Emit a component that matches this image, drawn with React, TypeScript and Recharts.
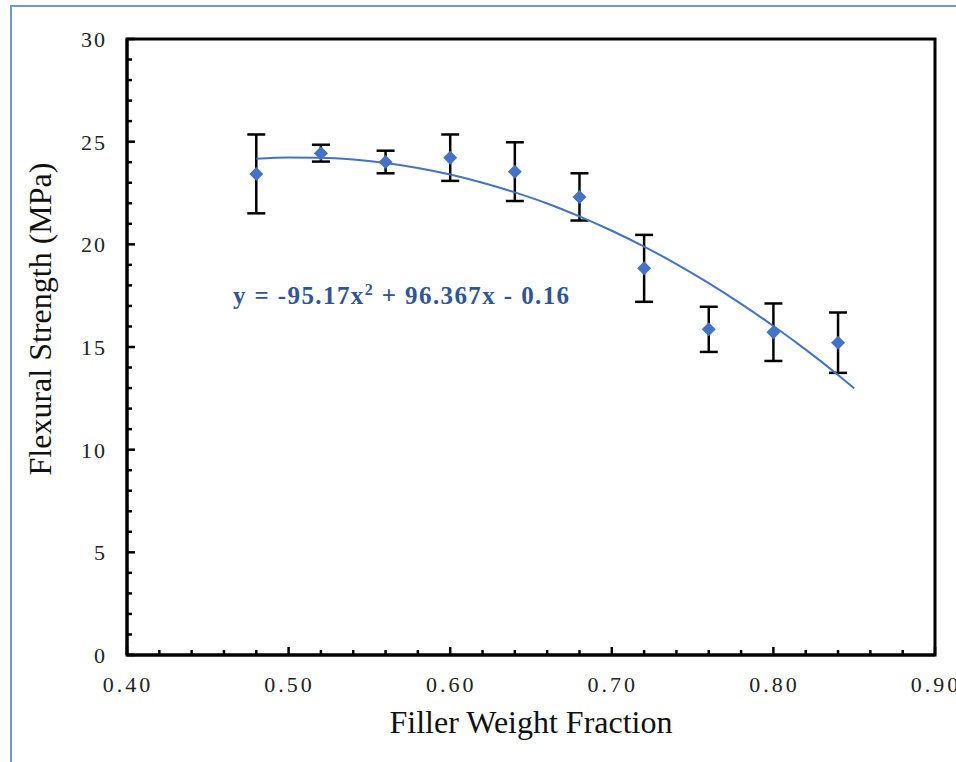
import React from "react";
import {
  ComposedChart,
  Scatter,
  Line,
  XAxis,
  YAxis,
  ErrorBar,
  ReferenceArea,
  Label,
} from "recharts";

// measured points
const fractions = [0.48, 0.52, 0.56, 0.6, 0.64, 0.68, 0.72, 0.76, 0.8, 0.84];
const strength = [23.43, 24.44, 24.01, 24.22, 23.54, 22.31, 18.83, 15.86, 15.72, 15.21];
const stdDev = [1.92, 0.41, 0.55, 1.13, 1.43, 1.15, 1.63, 1.1, 1.4, 1.47];

// polynomial trendline
const fitX = [0.48, 0.5, 0.52, 0.54, 0.56, 0.58, 0.6, 0.62, 0.64, 0.66, 0.68, 0.7, 0.72, 0.74, 0.76, 0.78, 0.8, 0.82, 0.84, 0.85];
const fitY = [24.17, 24.23, 24.22, 24.13, 23.96, 23.72, 23.4, 23.0, 22.53, 21.99, 21.36, 20.66, 19.89, 19.04, 18.11, 17.1, 16.02, 14.87, 13.64, 12.99];

const xTicks = [0.4, 0.42, 0.44, 0.46, 0.48, 0.5, 0.52, 0.54, 0.56, 0.58, 0.6, 0.62, 0.64, 0.66, 0.68, 0.7, 0.72, 0.74, 0.76, 0.78, 0.8, 0.82, 0.84, 0.86, 0.88, 0.9];
const yTicks = [0, 1, 2, 3, 4, 5, 6, 7, 8, 9, 10, 11, 12, 13, 14, 15, 16, 17, 18, 19, 20, 21, 22, 23, 24, 25, 26, 27, 28, 29, 30];

const points = fractions.map((x, i) => ({ x, strength: strength[i], sd: stdDev[i] }));
const fit = fitX.map((x, i) => ({ x, fit: fitY[i] }));

const FONT = '"Liberation Serif", "Times New Roman", serif';
const BLUE = "#4472C4";

const XTick = (props: any) => {
  const { x, y, index, payload } = props;
  const major = index % 5 === 0;
  return (
    <g>
      <line x1={x} y1={y} x2={x} y2={y - (major ? 8 : 5)} stroke="#000" strokeWidth={2.5} />
      {major && (
        <text
          x={x + 1}
          y={y + 37}
          textAnchor="middle"
          fontFamily={FONT}
          fontSize={22}
          letterSpacing={3}
          fill="#222"
        >
          {Number(payload.value).toFixed(2)}
        </text>
      )}
    </g>
  );
};

const YTick = (props: any) => {
  const { x, y, index, payload } = props;
  const major = index % 5 === 0;
  return (
    <g>
      <line x1={x} y1={y} x2={x + (major ? 8 : 5)} y2={y} stroke="#000" strokeWidth={2.5} />
      {major && (
        <text
          x={x - 20}
          y={y + 8}
          textAnchor="end"
          fontFamily={FONT}
          fontSize={22}
          letterSpacing={2}
          fill="#222"
        >
          {payload.value}
        </text>
      )}
    </g>
  );
};

const Diamond = (props: any) => {
  const { cx, cy } = props;
  const r = 7;
  return (
    <polygon
      points={`${cx},${cy - r} ${cx + r},${cy} ${cx},${cy + r} ${cx - r},${cy}`}
      fill={BLUE}
    />
  );
};

export default function App() {
  return (
    <div style={{ position: "absolute", left: 0, top: 0, width: 956, height: 762, background: "#fff" }}>
      <div
        style={{
          position: "absolute",
          left: 10,
          top: 5,
          right: 0,
          bottom: 0,
          borderLeft: "2px solid #6C9BDA",
          borderTop: "2px solid #6C9BDA",
        }}
      />
      <ComposedChart
        width={956}
        height={762}
        margin={{ top: 39, right: 21, bottom: 27, left: 0 }}
      >
        <XAxis
          dataKey="x"
          type="number"
          domain={[0.4, 0.9]}
          ticks={xTicks}
          interval={0}
          height={80}
          tickSize={0}
          tickMargin={0}
          tickLine={false}
          axisLine={{ stroke: "#000", strokeWidth: 3 }}
          tick={<XTick />}
          allowDuplicatedCategory={false}
        >
          <Label
            value="Filler Weight Fraction"
            position="center"
            dy={27}
            style={{ fontFamily: FONT, fontSize: 32, fill: "#111" }}
          />
        </XAxis>
        <YAxis
          type="number"
          domain={[0, 30]}
          ticks={yTicks}
          interval={0}
          width={127}
          tickSize={0}
          tickMargin={0}
          tickLine={false}
          axisLine={{ stroke: "#000", strokeWidth: 3 }}
          tick={<YTick />}
        >
          <Label
            value="Flexural Strength (MPa)"
            position="center"
            angle={-90}
            dx={-24}
            dy={-28}
            style={{ fontFamily: FONT, fontSize: 32, fill: "#111" }}
          />
        </YAxis>
        <ReferenceArea
          x1={0.4}
          x2={0.9}
          y1={0}
          y2={30}
          fill="none"
          stroke="#000"
          strokeWidth={3}
        />
        <Scatter
          data={points}
          dataKey="strength"
          shape={<Diamond />}
          isAnimationActive={false}
        >
          <ErrorBar dataKey="sd" direction="y" width={9} stroke="#000" strokeWidth={2.5} />
        </Scatter>
        <Line
          data={fit}
          dataKey="fit"
          type="monotone"
          stroke={BLUE}
          strokeWidth={2}
          dot={false}
          activeDot={false}
          isAnimationActive={false}
        />
      </ComposedChart>
      <div
        style={{
          position: "absolute",
          left: 233,
          top: 281,
          fontFamily: FONT,
          fontSize: 25,
          fontWeight: "bold",
          letterSpacing: 1.4,
          color: "#2F5597",
          whiteSpace: "nowrap",
        }}
      >
        y = -95.17x<sup style={{ fontSize: 16 }}>2</sup> + 96.367x - 0.16
      </div>
    </div>
  );
}
